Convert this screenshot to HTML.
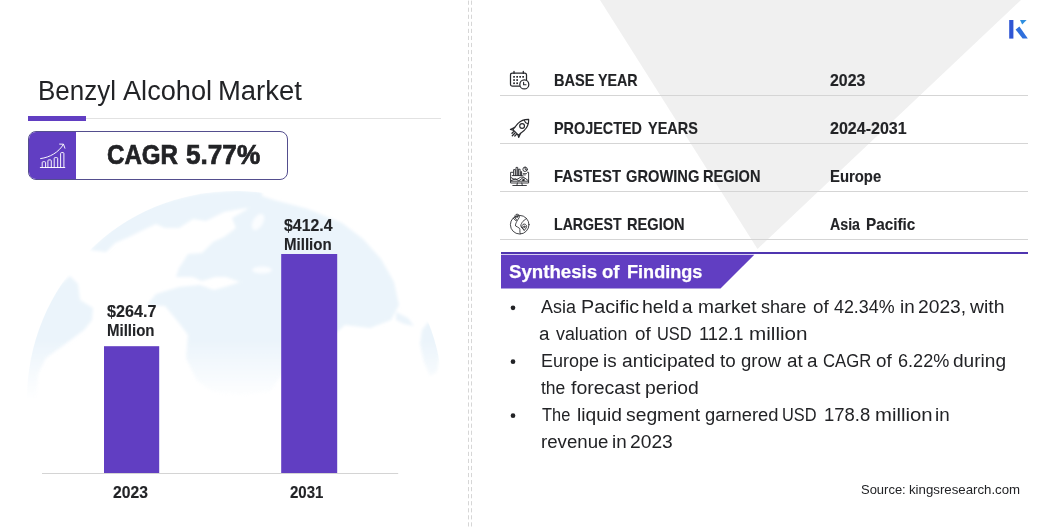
<!DOCTYPE html>
<html><head><meta charset="utf-8"><title>Benzyl Alcohol Market</title>
<style>
html,body{margin:0;padding:0;background:#fff}
body{width:1056px;height:528px;position:relative;overflow:hidden;font-family:"Liberation Sans",sans-serif}
.t{position:absolute;white-space:nowrap;line-height:1;transform-origin:0 0;font-family:"Liberation Sans",sans-serif}
.abs{position:absolute}
</style></head><body>
<!-- background shapes -->
<svg class="abs" style="left:0;top:0" width="1056" height="528" viewBox="0 0 1056 528">
  <!-- grey triangle -->
  <polygon points="600,0 1021,0 757.5,249" fill="#f0f0f0"/>
  <!-- globe -->
  <g id="globe"><defs>
  <linearGradient id="gfade" x1="0" y1="0" x2="0" y2="1">
    <stop offset="0" stop-color="#fff" stop-opacity="1"/>
    <stop offset="0.62" stop-color="#fff" stop-opacity="1"/>
    <stop offset="0.86" stop-color="#fff" stop-opacity="0"/>
  </linearGradient>
  <mask id="gmask" maskUnits="userSpaceOnUse" x="20" y="185" width="430" height="250">
    <rect x="20" y="185" width="430" height="250" fill="url(#gfade)"/>
  </mask>
  <clipPath id="gclip"><circle cx="235" cy="399" r="208"/></clipPath>
  <filter id="gblur" x="-5%" y="-5%" width="110%" height="110%"><feGaussianBlur stdDeviation="1.4"/></filter>
</defs>
<g mask="url(#gmask)">
  <g clip-path="url(#gclip)" fill="#ebf4fb" filter="url(#gblur)">
    <!-- left blob -->
    <path d="M20 420L26 380L30 340L42 308L56 288L70 276L78 284L80 300L93 308L92 320L84 330L64 345L46 358L38 374L36 400L34 420Z"/>
    <!-- greenland / north -->
    <path d="M90 250L112 228L134 213L156 204L179 198L202 193L240 190L262 192L262 206L240 209L224 212L206 221L193 219L179 228L165 228L156 224L143 230L129 237L115 243L106 252Z"/>
    <!-- eurasia + africa -->
    <path d="M262 196L274 200L308 209L342 223L363 239L381 259L394 282L399 305L391 320L370 328L345 325L337 332L318 330L300 340L292 356L281 376L270 392L240 396L213 392L197 381L186 358L188 335L179 323L165 306L147 305L156 294L179 287L200 285L214 290L228 286L240 282L226 277L215 277L202 281L193 277L176 277L179 268L188 254L202 253L213 242L224 237L236 228L232 218L246 210Z"/>
    <!-- east blob -->
    <path d="M428 322L436 330L440 352L437 372L430 376L424 362L420 344L422 330Z"/>
    <path d="M396 312L408 318L414 326L404 324L396 320Z"/>
  </g>
  <!-- inner seas -->
  <g fill="#fbfdff" filter="url(#gblur)">
    <ellipse cx="262" cy="270" rx="10" ry="3.5"/>
    <ellipse cx="296" cy="268" rx="4" ry="7"/>
    <ellipse cx="258" cy="222" rx="5" ry="9" transform="rotate(30 258 222)"/>
    <ellipse cx="300" cy="312" rx="3" ry="12" transform="rotate(-25 300 312)"/>
  </g>
</g>
</g>
  <!-- dashed separators -->
  <line x1="468.5" y1="0" x2="468.5" y2="528" stroke="#d6d6d6" stroke-width="1" stroke-dasharray="4.2 2.85" stroke-dashoffset="-0.6"/>
  <line x1="471.5" y1="0" x2="471.5" y2="528" stroke="#d6d6d6" stroke-width="1" stroke-dasharray="4.2 2.85" stroke-dashoffset="-0.6"/>
  <!-- title rule -->
  <rect x="28" y="118" width="413" height="1" fill="#e2e2e2"/>
  <rect x="28" y="116" width="58" height="5" fill="#613ec2"/>
  <!-- bars -->
  <rect x="42" y="473" width="356.2" height="0.85" fill="#cdcdcd"/>
  <rect x="104" y="346.2" width="55.2" height="126.8" fill="#613ec2"/>
  <rect x="281.2" y="254" width="56" height="219" fill="#613ec2"/>
  <!-- table rules -->
  <rect x="500" y="95" width="528" height="1" fill="#d5d5d5"/>
  <rect x="500" y="143" width="528" height="1" fill="#d5d5d5"/>
  <rect x="500" y="191" width="528" height="1" fill="#d5d5d5"/>
  <rect x="500" y="239" width="528" height="1" fill="#d5d5d5"/>
  <!-- synthesis header -->
  <rect x="501" y="252" width="527" height="2" fill="#4f35b0"/>
  <polygon points="501,254.7 754.3,254.7 720.5,288.6 501,288.6" fill="#613ec2"/>
  <!-- bullets -->
  <circle cx="513" cy="307.8" r="2.35" fill="#222326"/>
  <circle cx="513" cy="361.7" r="2.35" fill="#222326"/>
  <circle cx="513" cy="415.7" r="2.35" fill="#222326"/>
  <!-- logo -->
  <g id="logo">
    <rect x="1009.2" y="20" width="4.2" height="18.6" fill="#2f55d4"/>
    <polygon points="1020,20 1026.6,20 1022.2,24.4" fill="#2f8fe0"/>
    <polygon points="1015.6,29.6 1019.4,26.6 1027.8,38.6 1022.6,38.6" fill="#2f6fdc"/>
  </g>
</svg>
<!-- CAGR badge -->
<div class="abs" style="left:28px;top:131px;width:260px;height:49px;border:1px solid #544e8e;border-radius:8px;box-sizing:border-box;overflow:hidden;background:#fff">
  <div style="position:absolute;left:-1px;top:-1px;width:47.7px;height:50px;background:#613ec2"></div>
</div>
<svg class="abs" id="cagricon" style="left:38px;top:140px" width="30" height="30" viewBox="0 0 30 30"><g transform="translate(-38,-140)" fill="none" stroke="#ffffff" stroke-width="0.95" stroke-linecap="round" stroke-linejoin="round">
<path d="M40.3 167.5H64.8"/>
<path d="M42.2 167.5V162.6a0.9 0.9 0 0 1 .9-.9h1.6a.9.9 0 0 1 .9.9V167.5"/>
<path d="M47.9 167.5V160.8a.9.9 0 0 1 .9-.9h1.6a.9.9 0 0 1 .9.9V167.5"/>
<path d="M54.2 167.5V158.5a.9.9 0 0 1 .9-.9h1.7a.9.9 0 0 1 .9.9V167.5"/>
<path d="M60.6 167.5V153.5a.9.9 0 0 1 .9-.9h1.5a.9.9 0 0 1 .9.9V167.5"/>
<path d="M40.6 158.6C50 157.3 58.5 152.5 63.4 144.4"/>
<path d="M59.6 144.1L63.5 144.2L64.9 148.2"/>
</g>
</svg>
<!-- row icons -->
<svg class="abs" style="left:0;top:0" width="1056" height="528" viewBox="0 0 1056 528" fill="none" stroke="#26272b" stroke-linecap="round" stroke-linejoin="round">
<!-- calendar + clock -->
<g stroke-width="1.25">
  <path d="M519.4 86.2H512.4a1.9 1.9 0 0 1-1.9-1.9V74.9a1.9 1.9 0 0 1 1.9-1.9H524.6a1.9 1.9 0 0 1 1.9 1.9V79.6"/>
  <path d="M514 71.3V73.4M523.3 71.3V73.4"/>
  <circle cx="524.3" cy="84.4" r="4.5"/>
  <path d="M523.6 82.2V84.7H526" stroke-width="1.1"/>
</g>
<g fill="#26272b" stroke="none">
  <rect x="513.2" y="76" width="1.7" height="1.7"/><rect x="516.3" y="76" width="1.7" height="1.7"/><rect x="519.3" y="76" width="1.7" height="1.7"/><rect x="522.3" y="76" width="1.7" height="1.7"/>
  <rect x="513.2" y="79.2" width="1.7" height="1.7"/><rect x="516.3" y="79.2" width="1.7" height="1.7"/>
  <rect x="513.2" y="82.4" width="1.7" height="1.7"/><rect x="516.3" y="82.4" width="1.7" height="1.7"/>
</g>
<!-- rocket -->
<g stroke-width="1.15">
  <path d="M528.7 119.4C524.6 119.3 520.6 120.8 517.8 123.6L512.9 129.6L518.4 135.1L524.4 130.2C527.2 127.4 528.8 123.5 528.7 119.4Z"/>
  <path d="M524.3 120.3C524.8 122 526.1 123.3 527.8 123.8"/>
  <circle cx="522.1" cy="126" r="2.4"/>
  <path d="M514.8 127.3L510.4 129.4L513.2 130.2"/>
  <path d="M520.6 133.2L518.7 137.4L517.8 134.6"/>
  <path d="M513.6 131.6L512 133.2M516.4 134.4L514.8 136M515 133L512.3 135.7" stroke-width="1.3"/>
</g>
<!-- monitor with charts -->
<g stroke-width="0.9">
  <path d="M513 172.3H510.6V183H528.6V172.3H527.6"/>
  <path d="M510.6 181.2H528.6"/>
  <path d="M517.4 183L516.9 185.4M521.8 183L522.3 185.4M512.8 185.5H526.4"/>
  <path d="M513.6 175.4V169.6H515.3V175.4M516 175.4V167.4H517.7V175.4M518.4 175.4V169.2H520.1V175.4M520.8 175.4V171.6H521.6V175.4" />
  <path d="M512.2 175.6H522.4"/>
  <circle cx="525.1" cy="169.3" r="2.2"/>
  <path d="M525.1 167.1V169.3L526.9 170.6"/>
  <path d="M523.2 173.6H526.6M523.2 174.9H525.4" stroke-width="0.8"/>
  <path d="M511.2 177.6C514 179.6 516.4 180.2 519 178.2C521 176.7 523 176.4 525 178.2L528 180.4"/>
  <path d="M511.2 180.6L515.4 178.8L518.8 180.8L523.4 177.4"/>
</g>
<path d="M522.2 181V179.6L524.6 178.2V181Z" fill="#26272b" stroke="none"/>
<!-- globe with pins -->
<g stroke-width="0.85">
  <circle cx="519.7" cy="224.7" r="9.3"/>
  <path d="M513.2 218.2C514.6 219.6 515.6 220 516.8 221.6C516 223 515.2 224.6 515.6 226C517 226.4 518.2 227.6 519.6 228.4C520.2 229.8 519.6 231.6 520.2 233.8"/>
  <path d="M526.4 218.6C524.8 220 523 220.8 522 222.6C521.4 224 520.4 225 520.8 226.2C522 227 522.6 228.4 523.6 229.4"/>
  <path d="M515 217.6L517.1 220.8L519.2 217.6A2.35 2.35 0 1 0 515 217.6Z"/>
  <circle cx="517.1" cy="216.7" r="0.8"/>
  <path d="M522 227.6L524.2 230.6L526.4 227.6A2.45 2.45 0 1 0 522 227.6Z"/>
  <circle cx="524.3" cy="226.8" r="0.8"/>
</g>
</svg>

<!-- text -->
<span class="t" style="left:38.16px;top:78.00px;font-size:26.8px;font-weight:400;color:#222326;word-spacing:-0.83px;-webkit-text-stroke:0px #222326;transform:scaleX(0.9701)">Benzyl</span>
<span class="t" style="left:123.20px;top:78.00px;font-size:26.8px;font-weight:400;color:#222326;word-spacing:-0.83px;-webkit-text-stroke:0px #222326;transform:scaleX(1.0128)">Alcohol</span>
<span class="t" style="left:217.95px;top:78.00px;font-size:26.8px;font-weight:400;color:#222326;word-spacing:-0.83px;-webkit-text-stroke:0px #222326;transform:scaleX(1.0237)">Market</span>
<span class="t" style="left:107.00px;top:142.00px;font-size:26.9px;font-weight:700;color:#222326;word-spacing:-0.83px;-webkit-text-stroke:0.7px #222326;transform:scaleX(0.8962)">CAGR</span>
<span class="t" style="left:186.10px;top:142.00px;font-size:26.9px;font-weight:700;color:#222326;word-spacing:-0.83px;-webkit-text-stroke:0.7px #222326;transform:scaleX(0.9724)">5.77%</span>
<span class="t" style="left:106.70px;top:303.00px;font-size:16.5px;font-weight:700;color:#222326;word-spacing:-0.51px;-webkit-text-stroke:0.12px #222326;transform:scaleX(0.9780)">$264.7</span>
<span class="t" style="left:107.09px;top:322.00px;font-size:16.5px;font-weight:700;color:#222326;word-spacing:-0.51px;-webkit-text-stroke:0.12px #222326;transform:scaleX(0.9098)">Million</span>
<span class="t" style="left:283.70px;top:217.00px;font-size:16.5px;font-weight:700;color:#222326;word-spacing:-0.51px;-webkit-text-stroke:0.12px #222326;transform:scaleX(0.9608)">$412.4</span>
<span class="t" style="left:283.79px;top:236.00px;font-size:16.5px;font-weight:700;color:#222326;word-spacing:-0.51px;-webkit-text-stroke:0.12px #222326;transform:scaleX(0.9118)">Million</span>
<span class="t" style="left:113.20px;top:485.00px;font-size:16.6px;font-weight:701;color:#222326;word-spacing:-0.51px;-webkit-text-stroke:0.12px #222326;transform:scaleX(0.9459)">2023</span>
<span class="t" style="left:290.00px;top:485.00px;font-size:16.6px;font-weight:701;color:#222326;word-spacing:-0.51px;-webkit-text-stroke:0.12px #222326;transform:scaleX(0.9054)">2031</span>
<span class="t" style="left:553.70px;top:72.00px;font-size:16.2px;font-weight:700;color:#222326;word-spacing:-0.5px;-webkit-text-stroke:0.12px #222326;transform:scaleX(0.9000)">BASE</span>
<span class="t" style="left:598.30px;top:72.00px;font-size:16.2px;font-weight:700;color:#222326;word-spacing:-0.5px;-webkit-text-stroke:0.12px #222326;transform:scaleX(0.8822)">YEAR</span>
<span class="t" style="left:553.71px;top:120.00px;font-size:16.2px;font-weight:700;color:#222326;word-spacing:-0.5px;-webkit-text-stroke:0.12px #222326;transform:scaleX(0.8888)">PROJECTED</span>
<span class="t" style="left:647.50px;top:120.00px;font-size:16.2px;font-weight:700;color:#222326;word-spacing:-0.5px;-webkit-text-stroke:0.12px #222326;transform:scaleX(0.8927)">YEARS</span>
<span class="t" style="left:553.68px;top:168.00px;font-size:16.2px;font-weight:700;color:#222326;word-spacing:-0.5px;-webkit-text-stroke:0.12px #222326;transform:scaleX(0.9194)">FASTEST</span>
<span class="t" style="left:625.79px;top:168.00px;font-size:16.2px;font-weight:700;color:#222326;word-spacing:-0.5px;-webkit-text-stroke:0.12px #222326;transform:scaleX(0.9063)">GROWING</span>
<span class="t" style="left:702.90px;top:168.00px;font-size:16.2px;font-weight:700;color:#222326;word-spacing:-0.5px;-webkit-text-stroke:0.12px #222326;transform:scaleX(0.9000)">REGION</span>
<span class="t" style="left:553.73px;top:216.00px;font-size:16.2px;font-weight:700;color:#222326;word-spacing:-0.5px;-webkit-text-stroke:0.12px #222326;transform:scaleX(0.8740)">LARGEST</span>
<span class="t" style="left:626.60px;top:216.00px;font-size:16.2px;font-weight:700;color:#222326;word-spacing:-0.5px;-webkit-text-stroke:0.12px #222326;transform:scaleX(0.9032)">REGION</span>
<span class="t" style="left:830.30px;top:72.00px;font-size:16.2px;font-weight:700;color:#222326;word-spacing:-0.5px;-webkit-text-stroke:0.12px #222326;transform:scaleX(0.9806)">2023</span>
<span class="t" style="left:830.30px;top:120.00px;font-size:16.2px;font-weight:700;color:#222326;word-spacing:-0.5px;-webkit-text-stroke:0.12px #222326;transform:scaleX(0.9909)">2024-2031</span>
<span class="t" style="left:829.88px;top:168.00px;font-size:16.2px;font-weight:700;color:#222326;word-spacing:-0.5px;-webkit-text-stroke:0.12px #222326;transform:scaleX(0.9185)">Europe</span>
<span class="t" style="left:830.30px;top:216.00px;font-size:16.2px;font-weight:700;color:#222326;word-spacing:-0.5px;-webkit-text-stroke:0.12px #222326;transform:scaleX(0.8771)">Asia</span>
<span class="t" style="left:865.75px;top:216.00px;font-size:16.2px;font-weight:700;color:#222326;word-spacing:-0.5px;-webkit-text-stroke:0.12px #222326;transform:scaleX(0.9451)">Pacific</span>
<span class="t" style="left:509.10px;top:263.00px;font-size:18.6px;font-weight:700;color:#ffffff;word-spacing:-0.58px;-webkit-text-stroke:0.25px #ffffff;transform:scaleX(1.0035)">Synthesis</span>
<span class="t" style="left:602.41px;top:263.00px;font-size:18.6px;font-weight:700;color:#ffffff;word-spacing:-0.58px;-webkit-text-stroke:0.25px #ffffff;transform:scaleX(0.9941)">of</span>
<span class="t" style="left:626.73px;top:263.00px;font-size:18.6px;font-weight:700;color:#ffffff;word-spacing:-0.58px;-webkit-text-stroke:0.25px #ffffff;transform:scaleX(0.9737)">Findings</span>
<span class="t" style="left:861.30px;top:483.00px;font-size:13.0px;font-weight:400;color:#222326;word-spacing:-0.4px;-webkit-text-stroke:0px #222326;transform:scaleX(0.9977)">Source:</span>
<span class="t" style="left:908.98px;top:483.00px;font-size:13.0px;font-weight:400;color:#222326;word-spacing:-0.4px;-webkit-text-stroke:0px #222326;transform:scaleX(1.0187)">kingsresearch.com</span>
<span class="t" style="left:540.80px;top:297.00px;font-size:19.2px;font-weight:400;color:#222326;word-spacing:-0.6px;-webkit-text-stroke:0px #222326;transform:scaleX(0.9342)">Asia</span>
<span class="t" style="left:581.47px;top:297.00px;font-size:19.2px;font-weight:400;color:#222326;word-spacing:-0.6px;-webkit-text-stroke:0px #222326;transform:scaleX(1.0309)">Pacific</span>
<span class="t" style="left:641.78px;top:297.00px;font-size:19.2px;font-weight:400;color:#222326;word-spacing:-0.6px;-webkit-text-stroke:0px #222326;transform:scaleX(1.0176)">held</span>
<span class="t" style="left:682.02px;top:297.00px;font-size:19.2px;font-weight:400;color:#222326;word-spacing:-0.6px;-webkit-text-stroke:0px #222326;transform:scaleX(0.9800)">a</span>
<span class="t" style="left:697.60px;top:297.00px;font-size:19.2px;font-weight:400;color:#222326;word-spacing:-0.6px;-webkit-text-stroke:0px #222326;transform:scaleX(0.9966)">market</span>
<span class="t" style="left:761.36px;top:297.00px;font-size:19.2px;font-weight:400;color:#222326;word-spacing:-0.6px;-webkit-text-stroke:0px #222326;transform:scaleX(0.9413)">share</span>
<span class="t" style="left:812.57px;top:297.00px;font-size:19.2px;font-weight:400;color:#222326;word-spacing:-0.6px;-webkit-text-stroke:0px #222326;transform:scaleX(0.9800)">of</span>
<span class="t" style="left:833.90px;top:297.00px;font-size:19.2px;font-weight:400;color:#222326;word-spacing:-0.6px;-webkit-text-stroke:0px #222326;transform:scaleX(0.9308)">42.34%</span>
<span class="t" style="left:899.80px;top:297.00px;font-size:19.2px;font-weight:400;color:#222326;word-spacing:-0.6px;-webkit-text-stroke:0px #222326;transform:scaleX(0.9800)">in</span>
<span class="t" style="left:918.00px;top:297.00px;font-size:19.2px;font-weight:400;color:#222326;word-spacing:-0.6px;-webkit-text-stroke:0px #222326;transform:scaleX(1.0022)">2023,</span>
<span class="t" style="left:970.20px;top:297.00px;font-size:19.2px;font-weight:400;color:#222326;word-spacing:-0.6px;-webkit-text-stroke:0px #222326;transform:scaleX(1.0091)">with</span>
<span class="t" style="left:538.82px;top:324.00px;font-size:19.2px;font-weight:400;color:#222326;word-spacing:-0.6px;-webkit-text-stroke:0px #222326;transform:scaleX(0.9800)">a</span>
<span class="t" style="left:555.70px;top:324.00px;font-size:19.2px;font-weight:400;color:#222326;word-spacing:-0.6px;-webkit-text-stroke:0px #222326;transform:scaleX(0.9289)">valuation</span>
<span class="t" style="left:635.22px;top:324.00px;font-size:19.2px;font-weight:400;color:#222326;word-spacing:-0.6px;-webkit-text-stroke:0px #222326;transform:scaleX(0.9800)">of</span>
<span class="t" style="left:657.44px;top:324.00px;font-size:19.2px;font-weight:400;color:#222326;word-spacing:-0.6px;-webkit-text-stroke:0px #222326;transform:scaleX(0.8564)">USD</span>
<span class="t" style="left:698.74px;top:324.00px;font-size:19.2px;font-weight:400;color:#222326;word-spacing:-0.6px;-webkit-text-stroke:0px #222326;transform:scaleX(0.9556)">112.1</span>
<span class="t" style="left:749.02px;top:324.00px;font-size:19.2px;font-weight:400;color:#222326;word-spacing:-0.6px;-webkit-text-stroke:0px #222326;transform:scaleX(1.0769)">million</span>
<span class="t" style="left:540.66px;top:351.00px;font-size:19.2px;font-weight:400;color:#222326;word-spacing:-0.6px;-webkit-text-stroke:0px #222326;transform:scaleX(0.9367)">Europe</span>
<span class="t" style="left:603.39px;top:351.00px;font-size:19.2px;font-weight:400;color:#222326;word-spacing:-0.6px;-webkit-text-stroke:0px #222326;transform:scaleX(0.9800)">is</span>
<span class="t" style="left:622.00px;top:351.00px;font-size:19.2px;font-weight:400;color:#222326;word-spacing:-0.6px;-webkit-text-stroke:0px #222326;transform:scaleX(1.0022)">anticipated</span>
<span class="t" style="left:720.40px;top:351.00px;font-size:19.2px;font-weight:400;color:#222326;word-spacing:-0.6px;-webkit-text-stroke:0px #222326;transform:scaleX(0.9800)">to</span>
<span class="t" style="left:740.83px;top:351.00px;font-size:19.2px;font-weight:400;color:#222326;word-spacing:-0.6px;-webkit-text-stroke:0px #222326;transform:scaleX(0.9659)">grow</span>
<span class="t" style="left:786.72px;top:351.00px;font-size:19.2px;font-weight:400;color:#222326;word-spacing:-0.6px;-webkit-text-stroke:0px #222326;transform:scaleX(0.9800)">at</span>
<span class="t" style="left:807.22px;top:351.00px;font-size:19.2px;font-weight:400;color:#222326;word-spacing:-0.6px;-webkit-text-stroke:0px #222326;transform:scaleX(0.9800)">a</span>
<span class="t" style="left:823.43px;top:351.00px;font-size:19.2px;font-weight:400;color:#222326;word-spacing:-0.6px;-webkit-text-stroke:0px #222326;transform:scaleX(0.8698)">CAGR</span>
<span class="t" style="left:876.47px;top:351.00px;font-size:19.2px;font-weight:400;color:#222326;word-spacing:-0.6px;-webkit-text-stroke:0px #222326;transform:scaleX(0.9800)">of</span>
<span class="t" style="left:897.96px;top:351.00px;font-size:19.2px;font-weight:400;color:#222326;word-spacing:-0.6px;-webkit-text-stroke:0px #222326;transform:scaleX(0.9434)">6.22%</span>
<span class="t" style="left:953.31px;top:351.00px;font-size:19.2px;font-weight:400;color:#222326;word-spacing:-0.6px;-webkit-text-stroke:0px #222326;transform:scaleX(0.9941)">during</span>
<span class="t" style="left:540.80px;top:378.00px;font-size:19.2px;font-weight:400;color:#222326;word-spacing:-0.6px;-webkit-text-stroke:0px #222326;transform:scaleX(0.9115)">the</span>
<span class="t" style="left:570.80px;top:378.00px;font-size:19.2px;font-weight:400;color:#222326;word-spacing:-0.6px;-webkit-text-stroke:0px #222326;transform:scaleX(1.0162)">forecast</span>
<span class="t" style="left:645.09px;top:378.00px;font-size:19.2px;font-weight:400;color:#222326;word-spacing:-0.6px;-webkit-text-stroke:0px #222326;transform:scaleX(1.0078)">period</span>
<span class="t" style="left:541.60px;top:405.00px;font-size:19.2px;font-weight:400;color:#222326;word-spacing:-0.6px;-webkit-text-stroke:0px #222326;transform:scaleX(0.8545)">The</span>
<span class="t" style="left:576.50px;top:405.00px;font-size:19.2px;font-weight:400;color:#222326;word-spacing:-0.6px;-webkit-text-stroke:0px #222326;transform:scaleX(1.0020)">liquid</span>
<span class="t" style="left:625.89px;top:405.00px;font-size:19.2px;font-weight:400;color:#222326;word-spacing:-0.6px;-webkit-text-stroke:0px #222326;transform:scaleX(1.0055)">segment</span>
<span class="t" style="left:704.54px;top:405.00px;font-size:19.2px;font-weight:400;color:#222326;word-spacing:-0.6px;-webkit-text-stroke:0px #222326;transform:scaleX(0.9573)">garnered</span>
<span class="t" style="left:782.15px;top:405.00px;font-size:19.2px;font-weight:400;color:#222326;word-spacing:-0.6px;-webkit-text-stroke:0px #222326;transform:scaleX(0.8513)">USD</span>
<span class="t" style="left:823.84px;top:405.00px;font-size:19.2px;font-weight:400;color:#222326;word-spacing:-0.6px;-webkit-text-stroke:0px #222326;transform:scaleX(0.9630)">178.8</span>
<span class="t" style="left:874.74px;top:405.00px;font-size:19.2px;font-weight:400;color:#222326;word-spacing:-0.6px;-webkit-text-stroke:0px #222326;transform:scaleX(1.0596)">million</span>
<span class="t" style="left:935.40px;top:405.00px;font-size:19.2px;font-weight:400;color:#222326;word-spacing:-0.6px;-webkit-text-stroke:0px #222326;transform:scaleX(0.9800)">in</span>
<span class="t" style="left:540.63px;top:432.00px;font-size:19.2px;font-weight:400;color:#222326;word-spacing:-0.6px;-webkit-text-stroke:0px #222326;transform:scaleX(0.9721)">revenue</span>
<span class="t" style="left:611.95px;top:432.00px;font-size:19.2px;font-weight:400;color:#222326;word-spacing:-0.6px;-webkit-text-stroke:0px #222326;transform:scaleX(0.9800)">in</span>
<span class="t" style="left:630.00px;top:432.00px;font-size:19.2px;font-weight:400;color:#222326;word-spacing:-0.6px;-webkit-text-stroke:0px #222326;transform:scaleX(1.0024)">2023</span>
</body></html>
